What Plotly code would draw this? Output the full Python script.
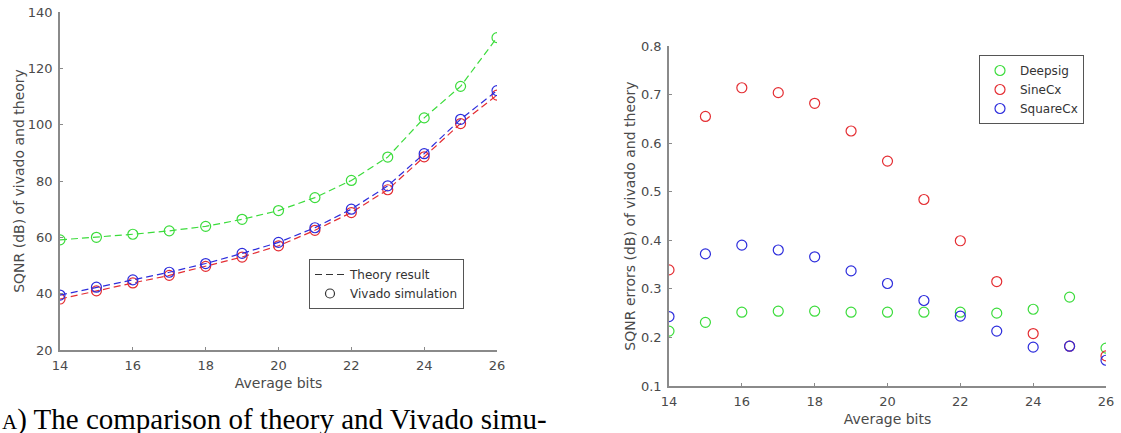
import plotly.graph_objects as go

W, H = 1121, 433

bits = [14, 15, 16, 17, 18, 19, 20, 21, 22, 23, 24, 25, 26]

# Left plot: SQNR (dB) theory vs Vivado simulation
sqnr_deepsig = [59.1, 60.0, 61.1, 62.3, 63.9, 66.4, 69.5, 74.1, 80.2, 88.5, 102.4, 113.6, 130.9]
sqnr_squarecx = [39.5, 42.3, 44.9, 47.6, 50.7, 54.3, 58.2, 63.4, 70.0, 78.3, 89.7, 101.9, 112.1]
sqnr_sinecx = [38.1, 41.0, 43.8, 46.5, 49.7, 53.0, 57.0, 62.5, 68.8, 76.9, 88.6, 100.4, 110.5]

# Right plot: SQNR errors
err_deepsig = [0.213, 0.231, 0.252, 0.254, 0.254, 0.252, 0.252, 0.252, 0.252, 0.250, 0.258, 0.283, 0.178]
err_sinecx = [0.339, 0.655, 0.714, 0.704, 0.682, 0.625, 0.563, 0.484, 0.399, 0.315, 0.208, 0.182, 0.162]
err_squarecx = [0.243, 0.372, 0.390, 0.380, 0.366, 0.337, 0.311, 0.276, 0.244, 0.213, 0.180, 0.182, 0.153]

x_ticks = [14, 16, 18, 20, 22, 24, 26]
left_y_ticks = [20, 40, 60, 80, 100, 120, 140]
right_y_ticks = [0.1, 0.2, 0.3, 0.4, 0.5, 0.6, 0.7, 0.8]

GREEN = "rgb(60,220,60)"
RED = "rgb(228,45,50)"
BLUE = "rgb(45,45,220)"
TXT = "#4a4a4a"
AX = "#8a8a8a"
FONT = "DejaVu Sans"

fig = go.Figure()

for vals, col in [(sqnr_deepsig, GREEN), (sqnr_sinecx, RED), (sqnr_squarecx, BLUE)]:
    fig.add_trace(go.Scatter(x=bits, y=vals, mode="lines", line=dict(color=col, width=1.2, dash="7px,4px"),
                             xaxis="x", yaxis="y", showlegend=False, hoverinfo="skip"))
    fig.add_trace(go.Scatter(x=bits, y=vals, mode="markers",
                             marker=dict(symbol="circle-open", size=10, color=col, line=dict(width=1.2)),
                             xaxis="x", yaxis="y", showlegend=False))

# legend entries (left)
fig.add_trace(go.Scatter(x=[None], y=[None], mode="lines", name="Theory result",
                         line=dict(color="#333", width=1.2, dash="7px,4px"), xaxis="x", yaxis="y", legend="legend"))
fig.add_trace(go.Scatter(x=[None], y=[None], mode="markers", name="Vivado simulation",
                         marker=dict(symbol="circle-open", size=9, color="#333", line=dict(width=1.2)),
                         xaxis="x", yaxis="y", legend="legend"))

for vals, col, name in [(err_deepsig, GREEN, "Deepsig"), (err_sinecx, RED, "SineCx"), (err_squarecx, BLUE, "SquareCx")]:
    fig.add_trace(go.Scatter(x=bits, y=vals, mode="markers", name=name,
                             marker=dict(symbol="circle-open", size=10, color=col, line=dict(width=1.2)),
                             xaxis="x2", yaxis="y2", legend="legend2"))

def dx(px):
    return px / W

def dy(py):
    return 1 - py / H

axis_common = dict(showgrid=False, zeroline=False, showline=True, linecolor=AX, linewidth=1.5,
                   ticks="inside", ticklen=3, tickcolor=AX, tickwidth=1, automargin=False,
                   tickfont=dict(family=FONT, size=13, color=TXT))

fig.update_layout(
    width=W, height=H,
    margin=dict(l=0, r=0, t=0, b=0),
    paper_bgcolor="white", plot_bgcolor="white",
    font=dict(family=FONT, color=TXT),
    xaxis=dict(domain=[dx(60), dx(497)], range=[14, 26], tickvals=x_ticks, anchor="y", ticklabelstandoff=3,
               title=dict(text="Average bits", font=dict(size=14, color=TXT), standoff=6), **axis_common),
    yaxis=dict(domain=[dy(350), dy(12)], range=[20, 140], tickvals=left_y_ticks, anchor="x", ticklabelstandoff=3,
               title=dict(text="SQNR (dB) of vivado and theory", font=dict(size=14, color=TXT), standoff=0), **axis_common),
    xaxis2=dict(domain=[dx(669), dx(1106)], range=[14, 26], tickvals=x_ticks, anchor="y2", ticklabelstandoff=3,
                title=dict(text="Average bits", font=dict(size=14, color=TXT), standoff=6), **axis_common),
    yaxis2=dict(domain=[dy(386), dy(46)], range=[0.1, 0.8], tickvals=right_y_ticks, tickformat=".1f", anchor="x2",
                ticklabelstandoff=3,
                title=dict(text="SQNR errors (dB) of vivado and theory", font=dict(size=14, color=TXT), standoff=2), **axis_common),
    legend=dict(x=dx(309), y=dy(259), xanchor="left", yanchor="top", bgcolor="white",
                bordercolor="#555", borderwidth=1, font=dict(family=FONT, size=12, color="#333"),
                tracegroupgap=0, itemwidth=30),
    legend2=dict(x=dx(979), y=dy(55), xanchor="left", yanchor="top", bgcolor="white",
                 bordercolor="#555", borderwidth=1, font=dict(family=FONT, size=12, color="#333"),
                 tracegroupgap=0, itemwidth=30),
    showlegend=True,
)

fig.add_annotation(text="<span style='font-size:21px'>A</span>) The comparison of theory and Vivado simu-",
                   x=0, y=dy(401), xref="paper", yref="paper", xanchor="left", yanchor="top",
                   showarrow=False, font=dict(family="Liberation Serif", size=29, color="black"))

fig.write_html("out.html")
